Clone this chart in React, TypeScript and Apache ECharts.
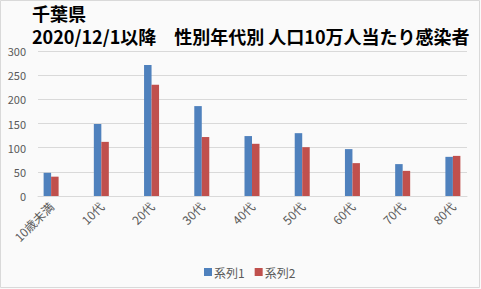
import React, { useEffect, useRef } from "react";
import * as echarts from "echarts";

const categories = ["10歳未満", "10代", "20代", "30代", "40代", "50代", "60代", "70代", "80代"];
const series1 = [48, 149, 271, 186, 124, 130, 97, 66, 81];
const series2 = [40, 112, 230, 122, 108, 101, 68, 52, 83];
const seriesNames = ["系列1", "系列2"];
const yTicks = { min: 0, max: 300, interval: 50 };
const titleLine1 = "千葉県";
const titleLine2 = "2020/12/1以降　性別年代別 人口10万人当たり感染者";

const FONT = '"Noto Sans CJK JP", "Noto Sans", sans-serif';

export default function App() {
  const ref = useRef<HTMLDivElement>(null);
  useEffect(() => {
    document.body.style.margin = "0";
    const chart = echarts.init(ref.current!, null, { renderer: "svg" });
    const titleStyle = { fontSize: 18, fontWeight: "bold", color: "#000", fontFamily: FONT, lineHeight: 20 };
    chart.setOption({
      animation: false,
      backgroundColor: "#fafafa",
      textStyle: { fontFamily: FONT },
      title: [
        { text: titleLine1, left: 32, top: 3, padding: 0, textStyle: titleStyle },
        { text: titleLine2, left: 32, top: 26, padding: 0, textStyle: titleStyle },
      ],
      legend: {
        data: seriesNames,
        left: 199,
        top: 261,
        itemWidth: 8,
        itemHeight: 8,
        itemGap: 10,
        icon: "rect",
        textStyle: { fontSize: 12, color: "#595959", fontFamily: FONT, padding: [0, 0, 0, -3] },
      },
      grid: [
        { left: 26, right: 3, top: 51, bottom: 93 },
        { left: 38, right: 14, top: 51, bottom: 93 },
      ],
      xAxis: [
        {
          type: "category",
          gridIndex: 0,
          data: categories,
          axisLine: { show: false },
          axisTick: { show: false },
          axisLabel: { rotate: 45, fontSize: 12, color: "#595959", margin: 8, fontFamily: FONT },
        },
        {
          type: "value",
          gridIndex: 1,
          min: 0,
          max: 1,
          axisLine: { show: true, lineStyle: { color: "#d9d9d9", width: 1 } },
          axisTick: { show: false },
          axisLabel: { show: false },
          splitLine: { show: false },
        },
      ],
      yAxis: [
        {
          type: "value",
          gridIndex: 0,
          min: yTicks.min,
          max: yTicks.max,
          interval: yTicks.interval,
          axisLabel: { show: false },
          axisLine: { show: false },
          axisTick: { show: false },
          splitLine: { show: false },
        },
        {
          type: "value",
          gridIndex: 1,
          min: yTicks.min,
          max: yTicks.max,
          interval: yTicks.interval,
          axisLabel: { fontSize: 11, color: "#595959", margin: 12, fontFamily: FONT },
          axisLine: { show: false },
          axisTick: { show: false },
          splitLine: { lineStyle: { color: "#d9d9d9", width: 1 } },
        },
      ],
      series: [
        {
          name: seriesNames[0],
          type: "bar",
          xAxisIndex: 0,
          yAxisIndex: 0,
          data: series1,
          barWidth: 7.5,
          barGap: "0%",
          itemStyle: { color: "#4f81bd" },
        },
        {
          name: seriesNames[1],
          type: "bar",
          xAxisIndex: 0,
          yAxisIndex: 0,
          data: series2,
          barWidth: 7.5,
          barGap: "0%",
          itemStyle: { color: "#c0504d" },
        },
      ],
      graphic: [
        {
          type: "rect",
          shape: { x: 0.5, y: 0.5, width: 479, height: 287 },
          style: { fill: "none", stroke: "#d9d9d9", lineWidth: 1 },
          silent: true,
        },
      ],
    });
    return () => chart.dispose();
  }, []);
  return <div ref={ref} style={{ position: "absolute", left: 0, top: 0, width: 481, height: 289 }} />;
}
